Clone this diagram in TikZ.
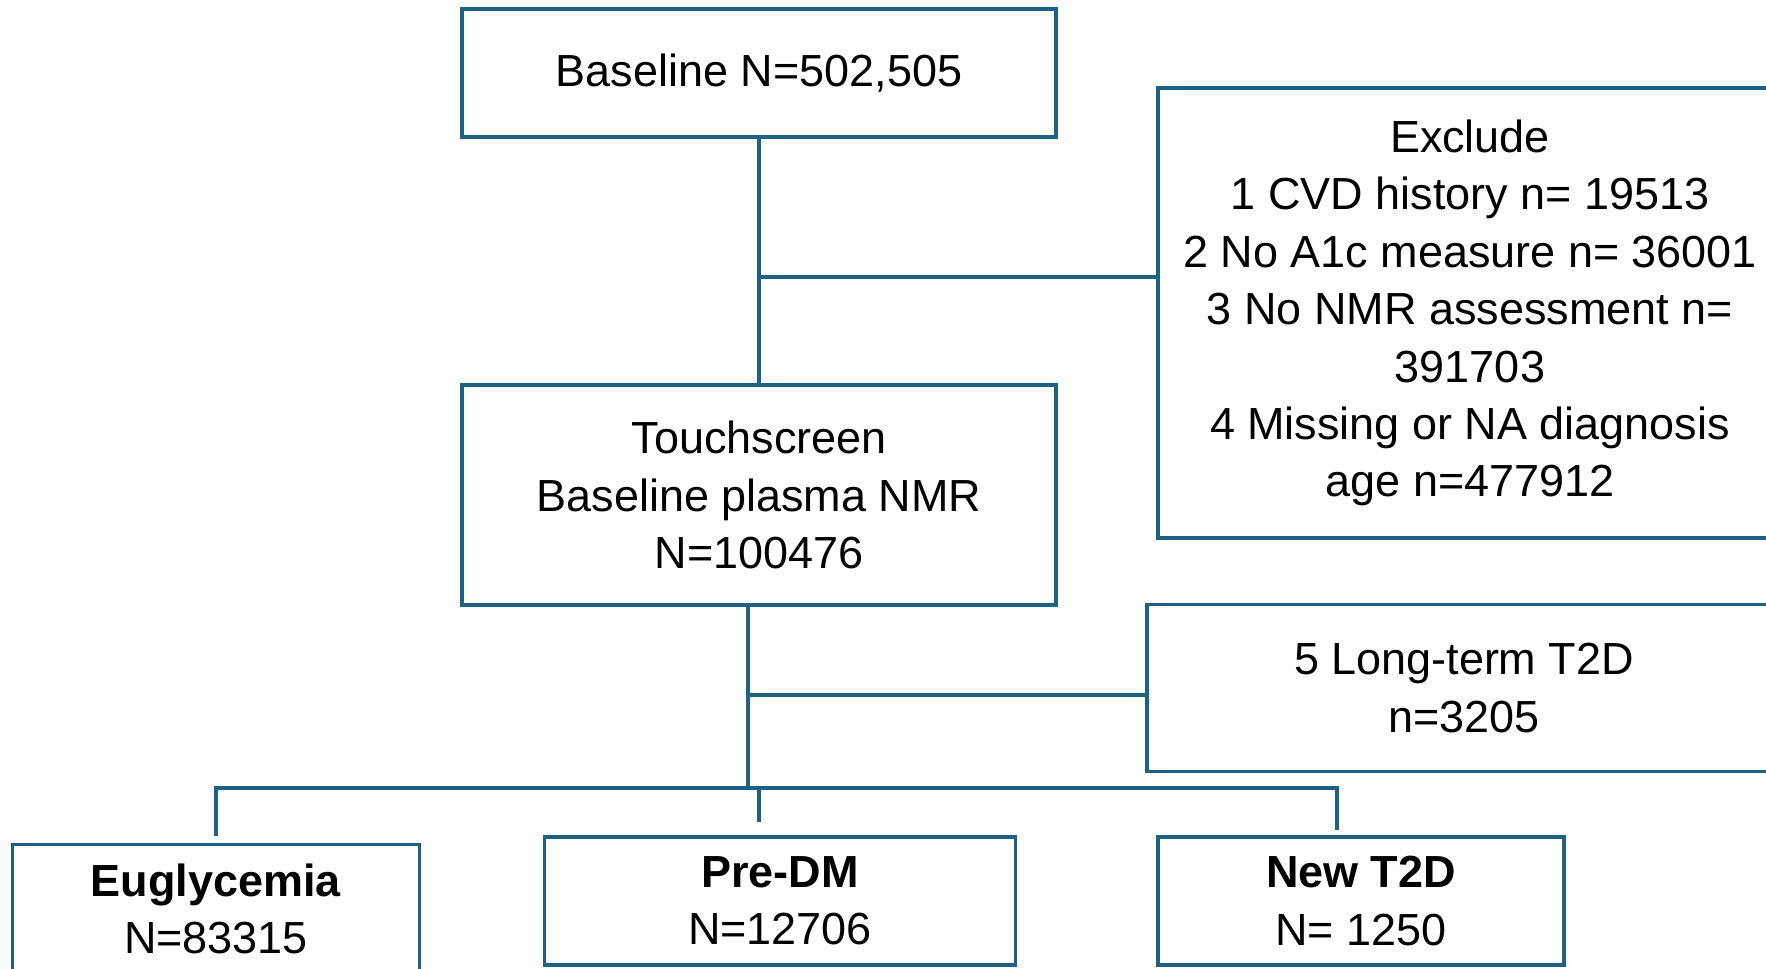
\documentclass[tikz,border=0pt]{standalone}
\usepackage{fontspec}
\setmainfont{Liberation Sans}
\usepackage{tikz}

\definecolor{flowblue}{RGB}{30,98,131}

\begin{document}
\begin{tikzpicture}[x=0.02cm, y=-0.02cm,
    flowbox/.style={draw=flowblue, line width=2pt, align=center, inner sep=0pt,
      font=\fontsize{25.6}{32.7}\selectfont},
    link/.style={draw=flowblue, line width=1.8pt}]
    \useasboundingbox (0, 0) rectangle (1766, 968);
    \clip (0, 0) rectangle (1766, 968);

    \node [flowbox, minimum width=594*0.02cm, minimum height=128*0.02cm] (baseline) at (759, 73) {Baseline N=502,505};
    \node [flowbox, minimum width=624*0.02cm, minimum height=450*0.02cm] (exclude) at (1470, 313) {Exclude\\1 CVD history n= 19513\\2 No A1c measure n= 36001\\3 No NMR assessment n=\\391703\\4 Missing or NA diagnosis\\age n=477912};
    \node [flowbox, minimum width=594*0.02cm, minimum height=220*0.02cm] (touch) at (759, 495) {Touchscreen\\Baseline plasma NMR\\N=100476};
    \node [flowbox, minimum width=634*0.02cm, minimum height=167*0.02cm] (longterm) at (1464, 688) {5 Long-term T2D\\n=3205};

    \node [flowbox, minimum width=407*0.02cm, minimum height=129*0.02cm] (eugly) at (216, 909) {\textbf{Euglycemia}\\N=83315};
    \node [flowbox, minimum width=471*0.02cm, minimum height=128*0.02cm] (predm) at (780, 901) {\textbf{Pre-DM}\\N=12706};
    \node [flowbox, minimum width=406*0.02cm, minimum height=128*0.02cm] (newtd) at (1361, 901) {\textbf{New T2D}\\N= 1250};

    \coordinate (split1) at (759, 277);
    \coordinate (split2) at (748, 695);
    \coordinate (bar) at (748, 788);

    \draw [link] (baseline.south) -- (touch.north);
    \draw [link] (split1) -- (split1 -| exclude.west);
    \draw [link] (touch.south -| split2) -- (bar);
    \draw [link] (split2) -- (split2 -| longterm.west);

    \draw [link] (216, 836) -- (216, 788) -- (1337, 788) -- (1337, 830);
    \draw [link] (759, 788) -- (759, 822);
\end{tikzpicture}
\end{document}
